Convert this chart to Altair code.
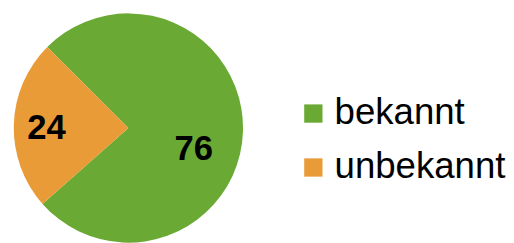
import altair as alt
import pandas as pd

categories = ["bekannt", "unbekannt"]
values = [76, 24]
labels = ["76", "24"]
order_idx = [0, 1]
colors = ["#6aaa34", "#e89b37"]

df = pd.DataFrame({"cat": categories, "value": values, "label": labels, "idx": order_idx})

theta = alt.Theta("value:Q", stack=True, scale=alt.Scale(range=[5.497, 11.780]))
order = alt.Order("idx:Q")

base = alt.Chart(df).encode(theta=theta, order=order)

arcs = base.mark_arc(radius=119).encode(
    color=alt.Color(
        "cat:N",
        scale=alt.Scale(domain=categories, range=colors),
        legend=alt.Legend(
            title=None,
            orient="none",
            legendX=298,
            legendY=86,
            symbolType="square",
            symbolSize=361,
            symbolStrokeWidth=0,
            labelFontSize=38,
            labelFont="Liberation Sans",
            labelColor="black",
            labelOffset=3,
            rowPadding=18,
            labelLimit=300,
        ),
    )
)

t24 = base.mark_text(radius=85, dy=3, fontSize=36, fontWeight="bold", font="Liberation Sans", color="black").encode(
    text=alt.condition(alt.datum.cat == "unbekannt", "label:N", alt.value(""))
)

t76 = base.mark_text(radius=68, dx=0, dy=20, fontSize=36, fontWeight="bold", font="Liberation Sans", color="black").encode(
    text=alt.condition(alt.datum.cat == "bekannt", "label:N", alt.value(""))
)

chart = alt.layer(arcs, t24, t76).properties(width=250, height=240, padding=0).configure_view(stroke=None)

chart.save("out.html", embed_options={"renderer": "svg", "actions": False})
